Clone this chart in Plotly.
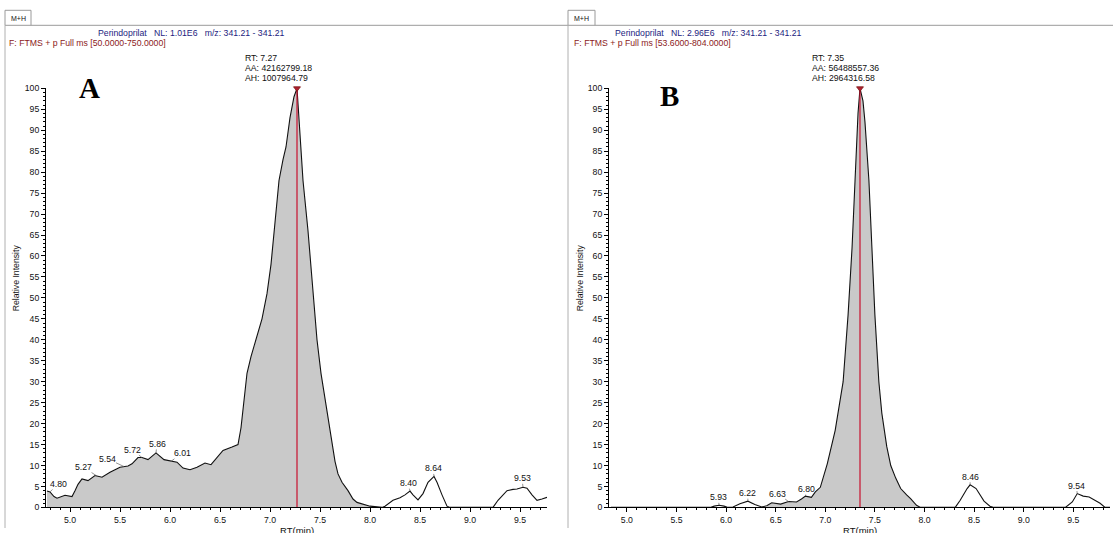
import numpy as np
import plotly.graph_objects as go

W, H = 1113, 533

# ---------------- data: panel A ----------------
rt_a = [4.77, 4.80, 4.84, 4.87, 4.95, 5.02, 5.05, 5.08, 5.12, 5.18, 5.25, 5.32, 5.40, 5.50,
        5.58, 5.62, 5.68, 5.72, 5.78, 5.86, 5.94, 6.01, 6.07, 6.13, 6.20, 6.27, 6.35, 6.41,
        6.47, 6.53, 6.62, 6.68, 6.71, 6.74, 6.77, 6.81, 6.86, 6.92, 6.97, 7.01, 7.05, 7.09,
        7.13, 7.16, 7.20, 7.24, 7.27, 7.30, 7.33, 7.38, 7.42, 7.47, 7.51, 7.55, 7.58, 7.62,
        7.65, 7.68, 7.72, 7.78, 7.83, 7.87, 7.93, 8.00, 8.12, 8.15, 8.23, 8.30, 8.35, 8.40,
        8.43, 8.48, 8.53, 8.58, 8.64, 8.67, 8.72, 8.77, 8.80, 9.23, 9.28, 9.33, 9.37, 9.43,
        9.47, 9.53, 9.57, 9.62, 9.67, 9.72, 9.77]
int_a = [3.9, 3.7, 2.6, 2.2, 2.9, 2.6, 4.0, 5.5, 6.8, 6.4, 7.6, 7.2, 8.4, 9.6,
         9.9, 10.4, 11.9, 11.9, 11.4, 13.0, 11.4, 11.0, 10.8, 9.4, 9.0, 9.6, 10.6, 10.2,
         12.0, 13.6, 14.4, 15.0, 19.0, 26.0, 32.0, 36.0, 40.0, 45.0, 51.0, 58.0, 68.0, 78.0,
         83.0, 86.0, 93.0, 98.0, 100.0, 88.0, 78.0, 66.0, 54.0, 40.0, 32.0, 26.0, 21.0, 15.0,
         11.0, 8.0, 6.0, 4.0, 2.0, 1.2, 0.7, 0.3, 0.0, 0.3, 1.7, 2.3, 3.0, 3.9,
         3.0, 1.8, 3.3, 6.0, 7.4, 6.0, 3.0, 0.3, 0.0, 0.0, 1.7, 3.0, 4.0, 4.3,
         4.4, 4.8, 4.6, 3.0, 1.7, 2.0, 2.4]
fill_end_a = 8.00
peak_a = 7.27
labels_a = ["4.80", "5.27", "5.54", "5.72", "5.86", "6.01", "8.40", "8.64", "9.53"]
header_a = ["Perindoprilat", "NL: 1.01E6", "m/z: 341.21 - 341.21"]
scan_a = "F: FTMS + p Full ms [50.0000-750.0000]"
info_a = ["RT: 7.27", "AA: 42162799.18", "AH: 1007964.79"]

# ---------------- data: panel B ----------------
rt_b = [4.84, 5.84, 5.88, 5.93, 5.98, 6.02, 6.07, 6.14, 6.22, 6.29, 6.36, 6.41, 6.46, 6.50,
        6.55, 6.63, 6.71, 6.76, 6.80, 6.86, 6.90, 6.95, 7.02, 7.10, 7.18, 7.23, 7.27, 7.30,
        7.33, 7.35, 7.38, 7.40, 7.44, 7.47, 7.50, 7.54, 7.57, 7.62, 7.66, 7.71, 7.76, 7.82,
        7.86, 7.92, 7.96, 8.31, 8.36, 8.43, 8.46, 8.52, 8.60, 8.66, 8.70, 9.42, 9.49, 9.54,
        9.60, 9.66, 9.72, 9.77, 9.82, 9.87]
int_b = [0.0, 0.0, 0.3, 0.5, 0.3, 0.0, 0.1, 0.9, 1.5, 0.7, 0.1, 0.4, 1.1, 1.0,
         0.8, 1.4, 1.3, 2.0, 2.7, 2.4, 3.7, 4.8, 10.4, 18.4, 30.0, 46.0, 62.0, 78.0,
         94.0, 100.0, 97.0, 92.0, 78.0, 62.0, 46.0, 30.0, 22.5, 14.5, 10.0, 7.0, 4.5, 3.0,
         2.1, 0.5, 0.0, 0.0, 1.7, 4.5, 5.4, 4.5, 1.5, 0.3, 0.0, 0.0, 1.3, 3.3,
         2.7, 2.5, 1.6, 1.0, 0.0, 0.0]
fill_start_b = 6.41
fill_end_b = 7.96
peak_b = 7.35
labels_b = ["5.93", "6.22", "6.63", "6.80", "8.46", "9.54"]
header_b = ["Perindoprilat", "NL: 2.96E6", "m/z: 341.21 - 341.21"]
scan_b = "F: FTMS + p Full ms [53.6000-804.0000]"
info_b = ["RT: 7.35", "AA: 56488557.36", "AH: 2964316.58"]

# label offsets (pixels) for the leader lines
offs_a = [(8, -8), (-14, -9), (-17, -8), (-10, -8), (1, -9), (11, -8), (-2, -8), (-1, -8), (-1, -9)]
offs_b = [(-1, -8), (0, -8), (-11, -8), (1, -7), (0, -8), (-1, -8)]

FONT = "Liberation Sans, Arial, sans-serif"
FS = 8.7


def px(xp):
    return xp / W


def py(yp):
    # vertical placement helper (pixel from top -> paper fraction)
    ys = (yp - 4.7) / 0.981
    return 1 - ys / H


fig = go.Figure()

panels = [
    dict(rt=rt_a, it=int_a, fs=rt_a[0], fe=fill_end_a, peak=peak_a, labels=labels_a, offs=offs_a,
         xa="x", ya="y", dom=(46, 547), rng=(4.76, 9.77), left=5, header=header_a, scan=scan_a,
         info=info_a, hx=96, sx=7, ix=243, ltr="A", lx=89, ly=88, ytx=16, tab=(5, 31)),
    dict(rt=rt_b, it=int_b, fs=fill_start_b, fe=fill_end_b, peak=peak_b, labels=labels_b, offs=offs_b,
         xa="x2", ya="y2", dom=(609, 1110), rng=(4.82, 9.87), left=568, header=header_b, scan=scan_b,
         info=info_b, hx=613, sx=572, ix=810, ltr="B", lx=669, ly=96, ytx=580, tab=(568, 595)),
]

annotations = []
shapes = []


def note(xp, yp, text, size=FS, color="#111111", xanchor="center", family=FONT, **kw):
    annotations.append(dict(x=px(xp), y=py(yp), xref="paper", yref="paper", showarrow=False,
                            text=text, xanchor=xanchor, yanchor="middle",
                            font=dict(family=family, size=size, color=color), **kw))


for i, p in enumerate(panels):
    rt = np.array(p["rt"])
    it = np.array(p["it"])
    m = (rt >= p["fs"] - 1e-9) & (rt <= p["fe"] + 1e-9)
    # filled area
    fig.add_trace(go.Scatter(x=rt[m], y=it[m], mode="lines", line=dict(width=0, color="rgba(0,0,0,0)"),
                             fill="tozeroy", fillcolor="#c9c9c9", xaxis=p["xa"], yaxis=p["ya"],
                             showlegend=False, hoverinfo="skip"))
    # trace line
    fig.add_trace(go.Scatter(x=rt, y=it, mode="lines", line=dict(color="#111111", width=1.1),
                             xaxis=p["xa"], yaxis=p["ya"], showlegend=False))
    # peak line
    fig.add_trace(go.Scatter(x=[p["peak"], p["peak"]], y=[0, 100], mode="lines",
                             line=dict(color="#c8102e", width=1.2), xaxis=p["xa"], yaxis=p["ya"],
                             showlegend=False))
    fig.add_trace(go.Scatter(x=[p["peak"]], y=[100], mode="markers",
                             marker=dict(symbol="triangle-down", size=6, color="#b02030",
                                         line=dict(color="#7a1010", width=0.8)),
                             xaxis=p["xa"], yaxis=p["ya"], showlegend=False, cliponaxis=False))
    # peak labels with leader lines
    for lab, (ox, oy) in zip(p["labels"], p["offs"]):
        x0 = float(lab)
        y0 = float(np.interp(x0, rt, it))
        annotations.append(dict(x=x0, y=y0, xref=p["xa"], yref=p["ya"], text=lab, showarrow=True,
                                arrowhead=0, arrowwidth=0.7, arrowcolor="#666666", ax=ox, ay=oy,
                                xanchor="center", yanchor="middle",
                                standoff=0, font=dict(family=FONT, size=FS, color="#111111"),
                                borderpad=0))
    # headers
    sp = "\u00a0\u00a0\u00a0"
    note(p["hx"], 33, sp.join(p["header"]), color="#1c1c80", xanchor="left")
    note(p["sx"], 43, p["scan"], color="#8b1a1a", xanchor="left")
    for k, t in enumerate(p["info"]):
        note(p["ix"], 58 + 10 * k, t, xanchor="left")
    # panel letter
    note(p["lx"], p["ly"], "<b>%s</b>" % p["ltr"], size=29, color="#000000",
         family="Liberation Serif, Times New Roman, serif")
    # axis titles
    cx = (p["dom"][0] + p["dom"][1]) / 2
    note(cx, 530.5, "RT(min)", size=9.5)
    note(p["ytx"], 278, "Relative Intensity", textangle=-90)
    # tab + frame lines
    t0, t1 = p["tab"]
    shapes.append(dict(type="rect", xref="paper", yref="paper", x0=px(t0), x1=px(t1), y0=py(25), y1=py(10),
                       line=dict(color="#9a9a9a", width=1), fillcolor="white", layer="below"))
    note((t0 + t1) / 2, 18, "M+H", size=7)
    right_end = 568 if i == 0 else W
    shapes.append(dict(type="line", xref="paper", yref="paper", x0=px(t1), x1=px(right_end), y0=py(25),
                       y1=py(25), line=dict(color="#9a9a9a", width=1)))
    shapes.append(dict(type="line", xref="paper", yref="paper", x0=px(p["left"]), x1=px(p["left"]),
                       y0=py(25), y1=0, line=dict(color="#b0b0b0", width=1)))

axis_common = dict(showline=True, linecolor="#000000", linewidth=1, ticks="outside", tickcolor="#000000",
                   ticklen=4, tickwidth=1, showgrid=False, zeroline=False,
                   tickfont=dict(family=FONT, size=FS, color="#111111"))

fig.update_layout(
    width=W, height=H, autosize=False, margin=dict(l=0, r=0, t=0, b=0),
    paper_bgcolor="white", plot_bgcolor="white",
    xaxis=dict(domain=[px(46), px(547)], range=[4.76, 9.77], anchor="y", dtick=0.5, tick0=0,
               tickformat=".1f", minor=dict(ticks="outside", ticklen=2, dtick=0.1, tickcolor="#000000"),
               **axis_common),
    yaxis=dict(domain=[py(507), py(88)], range=[0, 100], anchor="x", dtick=5,
               minor=dict(ticks="outside", ticklen=2, dtick=1, tickcolor="#000000"), **axis_common),
    xaxis2=dict(domain=[px(609), px(1110)], range=[4.82, 9.87], anchor="y2", dtick=0.5, tick0=0,
                tickformat=".1f", minor=dict(ticks="outside", ticklen=2, dtick=0.1, tickcolor="#000000"),
                **axis_common),
    yaxis2=dict(domain=[py(507), py(88)], range=[0, 100], anchor="x2", dtick=5,
                minor=dict(ticks="outside", ticklen=2, dtick=1, tickcolor="#000000"), **axis_common),
    annotations=annotations, shapes=shapes,
)

fig.write_html("out.html", config={"displayModeBar": False},
               post_script="document.body.style.margin='0';document.body.style.overflow='hidden';")
